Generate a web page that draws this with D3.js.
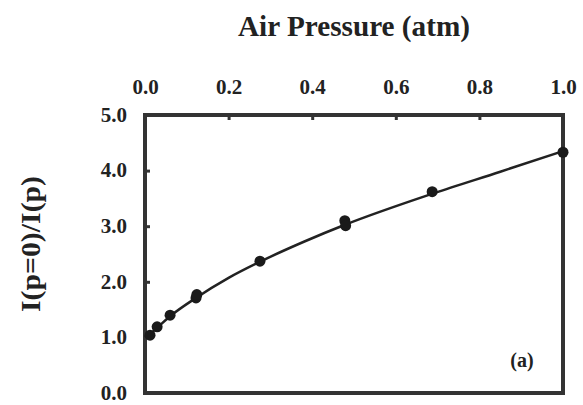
<!DOCTYPE html>
<html>
<head>
<meta charset="utf-8">
<script src="https://cdn.jsdelivr.net/npm/d3@7"></script>
<style>
  html, body { margin: 0; padding: 0; background: #fff; }
</style>
</head>
<body>
<svg id="chart" width="583" height="405"></svg>
<script>
// Measured intensity ratio versus air pressure
const pressure = [0.012, 0.029, 0.06, 0.122, 0.124, 0.275, 0.478, 0.48, 0.687, 1.0];
const ratio    = [1.04, 1.19, 1.40, 1.71, 1.77, 2.37, 3.10, 3.01, 3.62, 4.33];

// Fitted curve through the measurements
const fitPressure = [0.0, 0.012, 0.03, 0.06, 0.12, 0.2, 0.275, 0.38, 0.48, 0.69, 0.85, 1.0];
const fitRatio    = [1.00, 1.06, 1.18, 1.38, 1.70, 2.07, 2.36, 2.72, 3.03, 3.59, 3.98, 4.35];

const xTicks = [0.0, 0.2, 0.4, 0.6, 0.8, 1.0];
const yTicks = [0.0, 1.0, 2.0, 3.0, 4.0, 5.0];

const xTitle = "Air Pressure (atm)";
const yTitle = "I(p=0)/I(p)";
const panelTag = "(a)";

const serif = '"Liberation Serif", "DejaVu Serif", "Times New Roman", serif';
const ink = "#222";

const svg = d3.select("#chart");
const plotLeft = 145, plotRight = 563, plotTop = 115, plotBottom = 393;

const x = d3.scaleLinear().domain([0, 1]).range([plotLeft, plotRight]);
const y = d3.scaleLinear().domain([0, 5]).range([plotBottom, plotTop]);

function styleLabel(sel, size) {
  sel.attr("font-family", null)
    .style("font-family", serif)
    .style("font-weight", "bold")
    .style("font-size", size + "px")
    .attr("fill", ink);
}

// Top axis labels with short inward ticks
const xAxis = d3.axisTop(x).tickValues(xTicks).tickFormat(d3.format(".1f"))
  .tickSizeInner(-5).tickSizeOuter(0);
const gx = svg.append("g").attr("transform", `translate(0,${plotTop})`).call(xAxis);
gx.attr("font-family", null);
gx.select(".domain").remove();
gx.selectAll(".tick line").attr("stroke", "#333").attr("stroke-width", 3)
  .filter(d => d === 0 || d === 1).remove();
gx.selectAll(".tick text").call(styleLabel, 21).attr("y", -21).attr("dy", 0);

// Left axis labels with short inward ticks
const yAxis = d3.axisLeft(y).tickValues(yTicks).tickFormat(d3.format(".1f"))
  .tickSizeInner(-5).tickSizeOuter(0).tickPadding(18);
const gy = svg.append("g").attr("transform", `translate(${plotLeft},0)`).call(yAxis);
gy.attr("font-family", null);
gy.select(".domain").remove();
gy.selectAll(".tick line").attr("stroke", "#333").attr("stroke-width", 3)
  .filter(d => d === 0 || d === 5).remove();
gy.selectAll(".tick text").call(styleLabel, 21).attr("dy", "0.3em");

// Frame
svg.append("rect")
  .attr("x", plotLeft).attr("y", plotTop)
  .attr("width", plotRight - plotLeft).attr("height", plotBottom - plotTop)
  .attr("fill", "none").attr("stroke", "#333").attr("stroke-width", 4);

// Fit curve
const line = d3.line().x(d => x(d[0])).y(d => y(d[1])).curve(d3.curveMonotoneX);
svg.append("path")
  .datum(fitPressure.map((p, i) => [p, fitRatio[i]]))
  .attr("d", line)
  .attr("fill", "none").attr("stroke", ink).attr("stroke-width", 2.5);

// Data points
svg.append("g").selectAll("circle")
  .data(pressure.map((p, i) => [p, ratio[i]]))
  .join("circle")
  .attr("cx", d => x(d[0])).attr("cy", d => y(d[1]))
  .attr("r", 5.5).attr("fill", "#1a1a1a");

// Titles
svg.append("text")
  .attr("x", (plotLeft + plotRight) / 2).attr("y", 36)
  .attr("text-anchor", "middle")
  .attr("textLength", 232).attr("lengthAdjust", "spacingAndGlyphs")
  .call(styleLabel, 29)
  .text(xTitle);

svg.append("text")
  .attr("transform", "translate(40,244) rotate(-90)")
  .attr("text-anchor", "middle")
  .attr("textLength", 136).attr("lengthAdjust", "spacingAndGlyphs")
  .call(styleLabel, 27)
  .text(yTitle);

svg.append("text")
  .attr("x", 522).attr("y", 367)
  .attr("text-anchor", "middle")
  .call(styleLabel, 20)
  .text(panelTag);
</script>
</body>
</html>
